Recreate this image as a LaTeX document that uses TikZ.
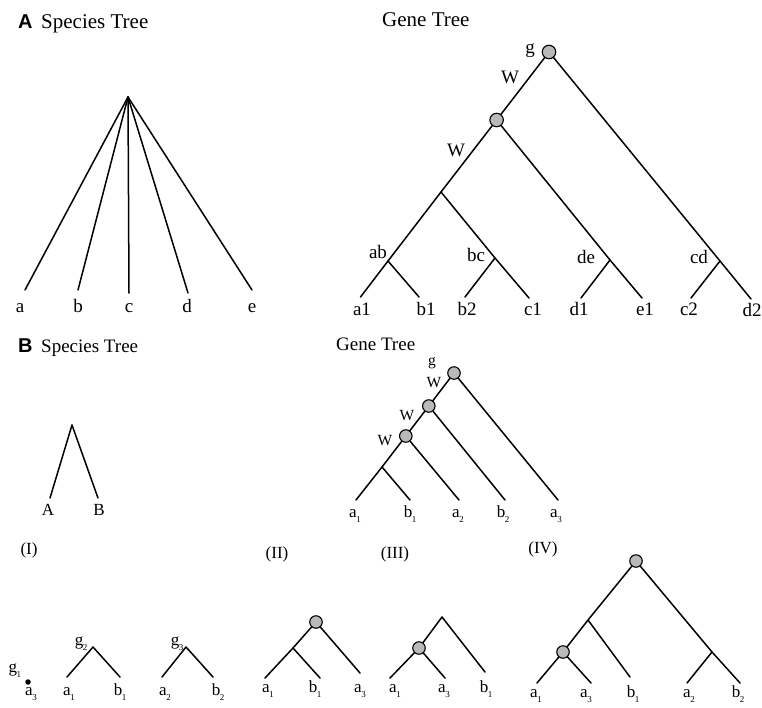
\documentclass[tikz,border=0pt]{standalone}
\usepackage{fontspec}
\setmainfont{Liberation Serif}
\newfontfamily\headfont{Liberation Sans}
% tiny lowered index after a leaf letter
\newcommand\lidx[2]{#1\kern-0.5pt\raisebox{-5.5pt}{\fontsize{9}{9}\selectfont #2}}
\tikzset{
  branch/.style={line width=1.5pt, line cap=round, line join=round},
  dupnode/.style={circle, draw, fill=gray!55, line width=1.1pt, minimum size=13.5pt, inner sep=0pt},
  dupsmall/.style={dupnode, minimum size=12.5pt},
  leafdot/.style={circle, fill=black, minimum size=5.5pt, inner sep=0pt},
  lblA/.style={font=\fontsize{19}{19}\selectfont, anchor=base, inner sep=0pt},
  lblB/.style={font=\fontsize{17}{17}\selectfont, anchor=base, inner sep=0pt},
  lblW/.style={font=\fontsize{15.5}{15.5}\selectfont, anchor=base, inner sep=0pt},
  titleA/.style={font=\fontsize{21}{21}\selectfont, anchor=base west, inner sep=0pt},
  titleB/.style={font=\fontsize{19}{19}\selectfont, anchor=base west, inner sep=0pt},
  panel/.style={font=\headfont\bfseries\fontsize{20}{20}\selectfont, anchor=base west, inner sep=0pt},
}
\begin{document}
\begin{tikzpicture}[x=1pt, y=-1pt]
\useasboundingbox (0,0) rectangle (762,707);

% ---------------- Panel A ----------------
\node[panel]  (pA)  at (18,28) {A};
\node[titleA] (tAs) at (41,28) {Species Tree};
\node[titleA] (tAg) at (382,26) {Gene Tree};

% species tree A: a star
\coordinate (sA) at (128,97);
\coordinate (sa) at (25,290);
\coordinate (sb) at (78,290);
\coordinate (sc) at (129,293);
\coordinate (sd) at (188,293);
\coordinate (se) at (252,290);
\draw[branch] (sA) -- (sa);
\draw[branch] (sA) -- (sb);
\draw[branch] (sA) -- (sc);
\draw[branch] (sA) -- (sd);
\draw[branch] (sA) -- (se);
\node[lblA] (la) at (20,312) {a};
\node[lblA] (lb) at (78,312) {b};
\node[lblA] (lc) at (129,312) {c};
\node[lblA] (ld) at (187,312) {d};
\node[lblA] (le) at (252,312) {e};

% gene tree A
\node[dupnode] (gR)  at (549,52) {};
\node[dupnode] (gC2) at (496.6,120) {};
\coordinate (gN3) at (441,192);
\coordinate (gAB) at (388,261);
\coordinate (ga1) at (360.5,297);
\coordinate (gb1) at (419,297);
\coordinate (gBC) at (495,258);
\coordinate (gb2) at (465,297);
\coordinate (gc1) at (529,298);
\coordinate (gDE) at (610,260);
\coordinate (gd1) at (581,298);
\coordinate (ge1) at (642,298);
\coordinate (gCD) at (720,261);
\coordinate (gc2) at (691,298);
\coordinate (gd2) at (751,299);
\draw[branch] (gR) -- (gC2);
\draw[branch] (gR) -- (gCD) -- (gd2);
\draw[branch] (gCD) -- (gc2);
\draw[branch] (gC2) -- (gN3) -- (gAB) -- (ga1);
\draw[branch] (gAB) -- (gb1);
\draw[branch] (gN3) -- (gBC) -- (gc1);
\draw[branch] (gBC) -- (gb2);
\draw[branch] (gC2) -- (gDE) -- (ge1);
\draw[branch] (gDE) -- (gd1);
\node[lblA] (lg)  at (530,53) {g};
\node[lblA] (lW1) at (510,83) {W};
\node[lblA] (lW2) at (456,156) {W};
\node[lblA] (lab) at (378,258) {ab};
\node[lblA] (lbc) at (476,261) {bc};
\node[lblA] (lde) at (586,263) {de};
\node[lblA] (lcd) at (699,263) {cd};
\node[lblA] (la1) at (362,315) {a1};
\node[lblA] (lb1) at (426,315) {b1};
\node[lblA] (lb2) at (467,315) {b2};
\node[lblA] (lc1) at (533,315) {c1};
\node[lblA] (ld1) at (579,315) {d1};
\node[lblA] (le1) at (645,315) {e1};
\node[lblA] (lc2) at (689,315) {c2};
\node[lblA] (ld2) at (752,316) {d2};

% ---------------- Panel B ----------------
\node[panel]  (pB)  at (18,352) {B};
\node[titleB] (tBs) at (41,352) {Species Tree};
\node[titleB] (tBg) at (336,350) {Gene Tree};

% species tree B
\coordinate (sBr) at (72,425);
\coordinate (sBA) at (50,498);
\coordinate (sBB) at (98,498);
\draw[branch] (sBr) -- (sBA);
\draw[branch] (sBr) -- (sBB);
\node[lblB] (lA) at (48,515) {A};
\node[lblB] (lB) at (99,515) {B};

% gene tree B
\node[dupsmall] (hR)  at (454,373) {};
\node[dupsmall] (hC2) at (428.8,406) {};
\node[dupsmall] (hC3) at (405.8,436) {};
\coordinate (hN)  at (382,467);
\coordinate (ha1) at (356,500);
\coordinate (hb1) at (410,500);
\coordinate (ha2) at (459,500);
\coordinate (hb2) at (505,500);
\coordinate (ha3) at (558,500);
\draw[branch] (hR) -- (hC2);
\draw[branch] (hC2) -- (hC3);
\draw[branch] (hC3) -- (hN) -- (ha1);
\draw[branch] (hN) -- (hb1);
\draw[branch] (hC3) -- (ha2);
\draw[branch] (hC2) -- (hb2);
\draw[branch] (hR) -- (ha3);
\node[lblW] (hg)  at (432,365) {g};
\node[lblW] (hW1) at (434,387) {W};
\node[lblW] (hW2) at (407,420) {W};
\node[lblW] (hW3) at (385,445) {W};
\node[lblB] (hla1) at (355,517) {\lidx{a}{1}};
\node[lblB] (hlb1) at (410,517) {\lidx{b}{1}};
\node[lblB] (hla2) at (458,517) {\lidx{a}{2}};
\node[lblB] (hlb2) at (503,517) {\lidx{b}{2}};
\node[lblB] (hla3) at (556,517) {\lidx{a}{3}};

% reconciliation cases
\node[lblB] (cI)   at (29,554)  {(I)};
\node[lblB] (cII)  at (277,558) {(II)};
\node[lblB] (cIII) at (395,558) {(III)};
\node[lblB] (cIV)  at (543,553) {(IV)};

% (I): three separate subtrees
\node[lblB] (ig1) at (15,672) {\lidx{g}{1}};
\node[leafdot] (idot) at (28,682) {};
\node[lblB] (ia3) at (31,695) {\lidx{a}{3}};

\coordinate (i2r) at (93,647);
\coordinate (i2a) at (67,677);
\coordinate (i2b) at (120,677);
\draw[branch] (i2a) -- (i2r) -- (i2b);
\node[lblB] (ig2) at (81,645) {\lidx{g}{2}};
\node[lblB] (ia1) at (69,695) {\lidx{a}{1}};
\node[lblB] (ib1) at (120,695) {\lidx{b}{1}};

\coordinate (i3r) at (186,647);
\coordinate (i3a) at (162,677);
\coordinate (i3b) at (213,677);
\draw[branch] (i3a) -- (i3r) -- (i3b);
\node[lblB] (ig3) at (177,645) {\lidx{g}{3}};
\node[lblB] (ia2) at (165,695) {\lidx{a}{2}};
\node[lblB] (ib2) at (218,695) {\lidx{b}{2}};

% (II)
\node[dupsmall] (jR) at (316,622) {};
\coordinate (jN)  at (293,648);
\coordinate (ja1) at (265,678);
\coordinate (jb1) at (320,678);
\coordinate (ja3) at (360,673);
\draw[branch] (jR) -- (jN) -- (ja1);
\draw[branch] (jN) -- (jb1);
\draw[branch] (jR) -- (ja3);
\node[lblB] (jla1) at (268,692) {\lidx{a}{1}};
\node[lblB] (jlb1) at (315,692) {\lidx{b}{1}};
\node[lblB] (jla3) at (360,692) {\lidx{a}{3}};

% (III)
\coordinate (kR) at (442,617);
\node[dupsmall] (kC) at (419,648) {};
\coordinate (ka1) at (390,678);
\coordinate (ka3) at (445,678);
\coordinate (kb1) at (485,672);
\draw[branch] (kR) -- (kC);
\draw[branch] (kR) -- (kb1);
\draw[branch] (kC) -- (ka1);
\draw[branch] (kC) -- (ka3);
\node[lblB] (kla1) at (395,692) {\lidx{a}{1}};
\node[lblB] (kla3) at (444,692) {\lidx{a}{3}};
\node[lblB] (klb1) at (486,692) {\lidx{b}{1}};

% (IV)
\node[dupsmall] (mR) at (636,561) {};
\coordinate (mN)  at (588,620);
\node[dupsmall] (mC) at (563,652) {};
\coordinate (ma1) at (537,683);
\coordinate (ma3) at (591,683);
\coordinate (mb1) at (630,677);
\coordinate (mRN) at (712,652);
\coordinate (ma2) at (687,683);
\coordinate (mb2) at (740,683);
\draw[branch] (mR) -- (mN) -- (mC);
\draw[branch] (mN) -- (mb1);
\draw[branch] (mC) -- (ma1);
\draw[branch] (mC) -- (ma3);
\draw[branch] (mR) -- (mRN) -- (mb2);
\draw[branch] (mRN) -- (ma2);
\node[lblB] (mla1) at (536,697) {\lidx{a}{1}};
\node[lblB] (mla3) at (586,697) {\lidx{a}{3}};
\node[lblB] (mlb1) at (633,697) {\lidx{b}{1}};
\node[lblB] (mla2) at (689,697) {\lidx{a}{2}};
\node[lblB] (mlb2) at (738,697) {\lidx{b}{2}};
\end{tikzpicture}
\end{document}
